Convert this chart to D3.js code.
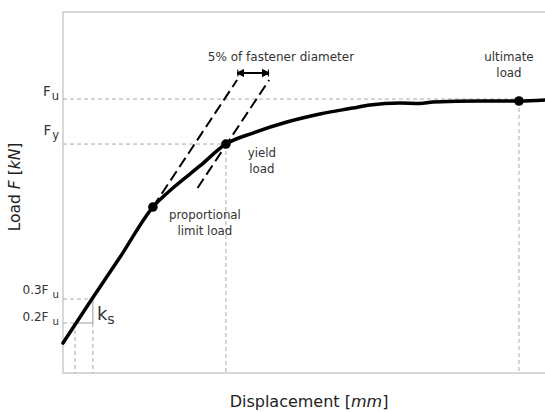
<!DOCTYPE html>
<html>
<head>
<meta charset="utf-8">
<script src="https://cdn.jsdelivr.net/npm/d3@7"></script>
<style>
  html, body { margin: 0; padding: 0; background: #fff; }
  svg { display: block; font-family: "DejaVu Sans", sans-serif; }
</style>
</head>
<body>
<svg id="chart" width="545" height="412"></svg>
<script>
// ---- data (displacement in mm, load in kN; schematic values) ----
const dispMm = [0, 1.20, 2.37, 3.73, 4.56, 5.68, 6.76, 7.88, 9.29, 10.66, 12.03, 12.74, 13.98, 14.81, 15.35, 17.30, 18.92, 20.00];
const loadKn = [3.32, 8.20, 12.85, 18.39, 20.50, 22.94, 25.37, 26.59, 27.81, 28.70, 29.36, 29.70, 29.92, 29.86, 30.03, 30.14, 30.14, 30.25];

const keyNames = ["proportional limit load", "yield load", "ultimate load"];
const keyDisp = [3.73, 6.76, 18.92];
const keyLoad = [18.39, 25.37, 30.14];

const levelNames = ["Fu", "Fy", "0.3Fu", "0.2Fu"];
const levelLoad = [30.36, 25.37, 8.20, 5.54];
const levelEndDisp = [18.92, 6.76, 1.24, 0.50];

const stiffness = 4.03;          // kN/mm, slope of the initial linear part
const offsetMm = 1.33;           // 5% of fastener diameter
const tangentTopLoad = 32.47;
const tangentBottomLoad = [18.39, 20.50];
const arrowLoad = 33.24;

// ---- layout ----
const W = 545, H = 412;
const margin = { top: 12, right: 0, bottom: 39, left: 63 };
const svg = d3.select("#chart");

const x = d3.scaleLinear().domain([0, 20]).range([margin.left, W - margin.right]);
const y = d3.scaleLinear().domain([0, 40]).range([H - margin.bottom, margin.top]);

const gridCol = "#aaaaaa", frameCol = "#cccccc", textCol = "#333333";

// frame (top, left, bottom)
svg.append("path")
  .attr("d", `M${x(20)},${y(40)}H${x(0)}V${y(0)}H${x(20)}`)
  .attr("fill", "none").attr("stroke", frameCol).attr("stroke-width", 1.5);

// horizontal level lines (dashed)
levelLoad.forEach((v, i) => {
  svg.append("line")
    .attr("x1", x(0)).attr("x2", x(levelEndDisp[i]))
    .attr("y1", y(v)).attr("y2", y(v))
    .attr("stroke", gridCol).attr("stroke-width", 1).attr("stroke-dasharray", "4,3");
});

// vertical dashed lines
[levelEndDisp[3], levelEndDisp[2]].forEach((d) => {
  svg.append("line")
    .attr("x1", x(d)).attr("x2", x(d))
    .attr("y1", y(levelLoad[3])).attr("y2", y(0))
    .attr("stroke", gridCol).attr("stroke-width", 1).attr("stroke-dasharray", "4,3");
});
[1, 2].forEach((k) => {
  svg.append("line")
    .attr("x1", x(keyDisp[k])).attr("x2", x(keyDisp[k]))
    .attr("y1", y(keyLoad[k])).attr("y2", y(0))
    .attr("stroke", gridCol).attr("stroke-width", 1).attr("stroke-dasharray", "4,3");
});

// k_s slope triangle (solid)
svg.append("path")
  .attr("d", `M${x(levelEndDisp[3])},${y(levelLoad[3])}H${x(levelEndDisp[2])}V${y(levelLoad[2])}`)
  .attr("fill", "none").attr("stroke", "#999").attr("stroke-width", 1);

// tangent lines (black dashed)
const topDisp1 = keyDisp[0] + (tangentTopLoad - keyLoad[0]) / stiffness;
const topDisp2 = topDisp1 + offsetMm;
const tangents = [
  [[keyDisp[0], tangentBottomLoad[0]], [topDisp1, tangentTopLoad]],
  [[topDisp2 - (tangentTopLoad - tangentBottomLoad[1]) / stiffness, tangentBottomLoad[1]], [topDisp2, tangentTopLoad]]
];
tangents.forEach(t => {
  svg.append("line")
    .attr("x1", x(t[0][0])).attr("y1", y(t[0][1]))
    .attr("x2", x(t[1][0])).attr("y2", y(t[1][1]))
    .attr("stroke", "#000").attr("stroke-width", 2).attr("stroke-dasharray", "11,5");
});

// double arrow
const defs = svg.append("defs");
["start", "end"].forEach(k => {
  const m = defs.append("marker").attr("id", "arr-" + k)
    .attr("viewBox", "0 -5 10 10").attr("refX", 10).attr("refY", 0)
    .attr("markerWidth", 4).attr("markerHeight", 4).attr("orient", "auto-start-reverse")
    .attr("markerUnits", "strokeWidth");
  m.append("path").attr("d", "M0,-5L10,0L0,5Z M9,-5V5").attr("fill", "#000").attr("stroke", "#000").attr("stroke-width", 1.5);
});
svg.append("line")
  .attr("x1", x(topDisp1)).attr("x2", x(topDisp2))
  .attr("y1", y(arrowLoad)).attr("y2", y(arrowLoad))
  .attr("stroke", "#000").attr("stroke-width", 1.8)
  .attr("marker-start", "url(#arr-start)").attr("marker-end", "url(#arr-end)");

svg.append("text")
  .attr("x", 281).attr("y", 61)
  .attr("text-anchor", "middle").attr("font-size", 12).attr("fill", textCol)
  .text("5% of fastener diameter");

// load-displacement curve
const pts = dispMm.map((d, i) => [d, loadKn[i]]);
svg.append("path")
  .datum(pts)
  .attr("d", d3.line().x(d => x(d[0])).y(d => y(d[1])).curve(d3.curveMonotoneX))
  .attr("fill", "none").attr("stroke", "#000").attr("stroke-width", 3.5)
  .attr("stroke-linejoin", "round").attr("stroke-linecap", "round");

// key points
svg.selectAll("circle.key").data(keyDisp).join("circle")
  .attr("class", "key")
  .attr("cx", (d) => x(d)).attr("cy", (d, i) => y(keyLoad[i]))
  .attr("r", 4.8).attr("fill", "#000");

// annotations for key points
function twoLine(cx, cy, l1, l2) {
  const t = svg.append("text").attr("text-anchor", "middle").attr("font-size", 11.8).attr("fill", textCol);
  t.append("tspan").attr("x", cx).attr("y", cy).text(l1);
  t.append("tspan").attr("x", cx).attr("y", cy + 16).text(l2);
}
twoLine(x(keyDisp[0]) + 52, y(keyLoad[0]) + 11.5, "proportional", "limit load");
twoLine(x(keyDisp[1]) + 36, y(keyLoad[1]) + 13, "yield", "load");
twoLine(x(keyDisp[2]) - 10 + 0, y(keyLoad[2]) - 39.5, "ultimate", "load");

// level labels
function subLabel(xr, yy, main, sub, size, gap) {
  const t = svg.append("text").attr("x", xr).attr("y", yy).attr("text-anchor", "end")
    .attr("font-size", size).attr("fill", textCol);
  t.append("tspan").text(main);
  t.append("tspan").attr("dx", gap).attr("dy", 4).attr("font-size", size * 0.85).text(sub);
}
subLabel(59, y(levelLoad[0]) - 3, "F", "u", 13.5, 1);
subLabel(59, y(levelLoad[1]) - 9, "F", "y", 13.5, 1);
subLabel(59, y(levelLoad[2]) - 5, "0.3F", "u", 12, 4);
subLabel(59, y(levelLoad[3]) - 2, "0.2F", "u", 12, 4);

// k_s label
const ks = svg.append("text").attr("x", x(levelEndDisp[2]) + 4).attr("y", y((levelLoad[2] + levelLoad[3]) / 2) + 9)
  .attr("font-size", 18).attr("fill", textCol);
ks.append("tspan").text("k");
ks.append("tspan").attr("dy", 4).attr("font-size", 14).text("s");

// axis titles
const xt = svg.append("text").attr("x", 309).attr("y", 407).attr("text-anchor", "middle")
  .attr("font-size", 16).attr("fill", "#222");
xt.append("tspan").text("Displacement [");
xt.append("tspan").attr("font-style", "italic").text("mm");
xt.append("tspan").text("]");

const yt = svg.append("text").attr("transform", "translate(20,187) rotate(-90)").attr("text-anchor", "middle")
  .attr("font-size", 15.5).attr("fill", "#222");
yt.append("tspan").text("Load ");
yt.append("tspan").attr("font-style", "italic").text("F");
yt.append("tspan").text(" [");
yt.append("tspan").attr("font-style", "italic").text("kN");
yt.append("tspan").text("]");
</script>
</body>
</html>
